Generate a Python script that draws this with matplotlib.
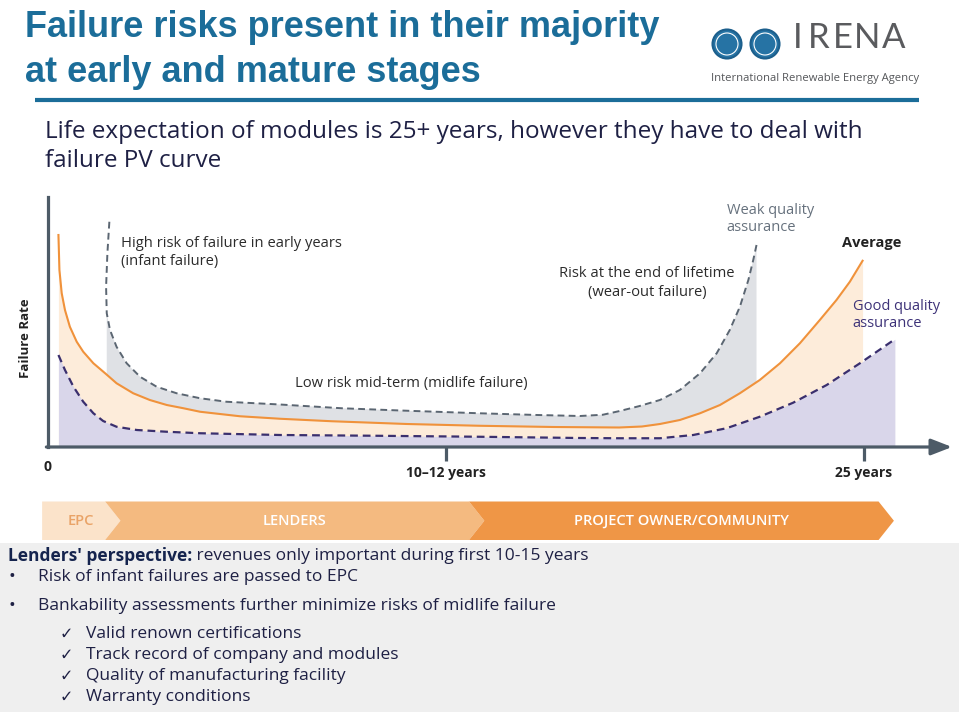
import matplotlib
matplotlib.use('Agg')
import matplotlib.pyplot as plt
from matplotlib.patches import Polygon, Circle

plt.rcParams['font.family'] = ['Open Sans', 'DejaVu Sans']

# failure rate curves (years, relative failure rate)
avg_years = [0.32, 0.35, 0.42, 0.52, 0.67, 0.88, 1.08, 1.39, 1.75, 2.10, 2.61, 3.12, 3.64, 4.15,
             4.66, 5.88, 7.11, 8.7, 11.0, 13.2, 15.5, 17.5, 18.2, 18.75, 19.36, 19.98, 20.59,
             21.20, 21.81, 22.43, 23.04, 23.65, 24.16, 24.57, 24.96]
avg_rate = [84.8, 70.8, 61.5, 54.8, 48.1, 42.1, 38.1, 33.5, 29.5, 25.5, 21.5, 18.8, 16.8, 15.5,
            14.1, 12.3, 11.3, 10.3, 9.2, 8.5, 8.0, 7.8, 8.2, 9.2, 10.8, 13.5, 16.8,
            21.5, 26.8, 33.5, 41.5, 50.8, 58.8, 66.1, 74.5]

weak_years = [1.88, 1.82, 1.78, 1.80, 1.90, 2.10, 2.41, 2.82, 3.33, 3.94, 4.66, 5.47, 7.11, 9.0,
              10.8, 13.2, 15.0, 16.3, 17.0, 17.52, 18.1, 18.75, 19.36, 19.98, 20.49, 20.89,
              21.2, 21.46, 21.61, 21.71]
weak_rate = [90.1, 77.5, 64.1, 53.5, 46.8, 40.1, 33.5, 28.1, 24.1, 21.5, 19.5, 18.1, 17.0, 15.5,
             14.6, 13.5, 12.8, 12.4, 12.9, 14.4, 16.3, 18.8, 22.8, 29.5, 37.5, 46.8,
             56.1, 66.8, 74.8, 80.8]

good_years = [0.32, 0.52, 0.78, 1.08, 1.39, 1.69, 2.10, 2.72, 3.64, 4.66, 7.11, 10.0, 13.2, 16.3,
              17.5, 18.75, 19.77, 20.79, 21.81, 22.83, 23.86, 24.88, 25.95]
good_rate = [36.8, 30.8, 24.1, 18.1, 13.5, 10.4, 8.1, 6.8, 6.1, 5.5, 4.8, 4.5, 4.1, 3.6,
             3.5, 3.5, 4.8, 7.5, 12.1, 17.7, 24.8, 33.5, 43.1]

tick_years = [12.2, 25]
tick_labels = ['10–12 years', '25 years']

phase_names = ['EPC', 'LENDERS', 'PROJECT OWNER/COMMUNITY']
phase_edges = [-0.18, 1.75, 12.9, 25.45]
phase_colors = ['#fbe3ca', '#f4ba80', '#ef9646']
phase_text_colors = ['#e9a367', 'white', 'white']

bullets = ['Risk of infant failures are passed to EPC',
           'Bankability assessments further minimize risks of midlife failure']
checks = ['Valid renown certifications', 'Track record of company and modules',
          'Quality of manufacturing facility', 'Warranty conditions']

blue = '#1b6d99'
navy = '#1e2044'
axis_col = '#4d5b67'

fig = plt.figure(figsize=(9.59, 7.12), dpi=100)

# background layer in pixel coordinates
bg = fig.add_axes([0, 0, 1, 1])
bg.set_xlim(0, 959)
bg.set_ylim(712, 0)
bg.axis('off')

bg.text(25, 37, 'Failure risks present in their majority', family='Liberation Sans',
        weight='bold', size=26, color=blue, va='baseline')
bg.text(25, 82, 'at early and mature stages', family='Liberation Sans',
        weight='bold', size=26, color=blue, va='baseline')
bg.plot([35, 919], [100, 100], color=blue, lw=3, solid_capstyle='butt')

# logo
for cx in [727, 765]:
    bg.add_patch(Circle((cx, 44), 14.5, facecolor='#2673a4', edgecolor='#1c5f8c', lw=1.5))
    bg.add_patch(Circle((cx, 44), 11, facecolor='none', edgecolor='white', lw=0.8))
for ch, cx in zip('IRENA', [798, 819, 843, 867, 894]):
    bg.text(cx, 48, ch, size=25, color='#5a5b5e', ha='center', va='baseline',
            family=['Lato', 'DejaVu Sans'])
bg.text(711, 79, 'International Renewable Energy Agency', size=8.1, color='#55575a', va='center')

bg.text(45, 138, 'Life expectation of modules is 25+ years, however they have to deal with',
        size=17.5, color=navy, va='baseline')
bg.text(45, 167, 'failure PV curve', size=17.5, color=navy, va='baseline')

# bottom panel
bg.add_patch(plt.Rectangle((0, 543), 959, 169, facecolor='#efefef', edgecolor='none'))
t = bg.text(8, 556, "Lenders' perspective:", size=12.5, weight='bold', color='#15244e', va='center')
bg.annotate(' revenues only important during first 10-15 years', xy=(1, 0.5), xycoords=t,
            size=12.5, color=navy, va='center')
for y, s in zip([577, 606], bullets):
    bg.text(9, y, '•', size=13, color=navy, va='center')
    bg.text(38, y, s, size=12.5, color=navy, va='center')
for y, s in zip([634, 655, 676, 697], checks):
    bg.text(60, y, '✓', size=11.5, color=navy, va='center', family=['DejaVu Sans'])
    bg.text(86, y, s, size=12.5, color=navy, va='center')

# chart
ax = fig.add_axes([48 / 959, (712 - 447) / 712, 904 / 959, 250 / 712])
ax.set_facecolor('none')
ax.set_xlim(0, 27.7)
ax.set_ylim(0, 100)

ax.fill(weak_years[3:] + [weak_years[-1], weak_years[3]], weak_rate[3:] + [0, 0],
        color='#dfe1e5', lw=0, zorder=1)
ax.fill_between(avg_years, avg_rate, 0, color='#fdecda', lw=0, zorder=2)
ax.fill_between(good_years, good_rate, 0, color='#d9d6ea', lw=0, zorder=3)
ax.plot(weak_years, weak_rate, color='#5b6672', lw=1.4, dashes=(3.5, 2.2), zorder=4)
ax.plot(avg_years, avg_rate, color='#f0923b', lw=1.5, zorder=5)
ax.plot(good_years, good_rate, color='#3a2f6e', lw=1.6, dashes=(3.5, 2.2), zorder=6)

for side in ['top', 'right', 'bottom']:
    ax.spines[side].set_visible(False)
ax.spines['left'].set_color(axis_col)
ax.spines['left'].set_linewidth(2.3)
ax.annotate('', xy=(27.7, 0), xytext=(-0.05, 0), annotation_clip=False, zorder=7,
            arrowprops=dict(arrowstyle='-|>,head_length=0.9,head_width=0.35', color=axis_col,
                            lw=2.3, shrinkA=0, shrinkB=0, mutation_scale=14))
ax.set_yticks([])
ax.set_xticks(tick_years, labels=tick_labels)
ax.tick_params(axis='x', length=10, width=2.3, color=axis_col, pad=4)
for lab in ax.get_xticklabels():
    lab.set_fontweight('bold')
    lab.set_fontsize(10)
    lab.set_color('#222222')
ax.text(-0.03, -8, '0', weight='bold', size=10, color='#222222', ha='center', va='center')
ax.text(-0.7, 43.6, 'Failure Rate', weight='bold', size=9.5, color='#222222', rotation=90,
        ha='center', va='center')

ax.text(2.24, 84.4, 'High risk of failure in early years\n(infant failure)', size=10.6,
        color='#2b2b2b', va='top', linespacing=1.3)
ax.text(7.57, 25.6, 'Low risk mid-term (midlife failure)', size=10.6, color='#2b2b2b',
        va='center')
ax.text(18.35, 65.6, 'Risk at the end of lifetime\n(wear-out failure)', size=10.6,
        color='#2b2b2b', ha='center', va='center', multialignment='center', linespacing=1.3)
ax.text(20.8, 91.2, 'Weak quality\nassurance', size=10.5, color='#66717d', va='center',
        linespacing=1.1)
ax.text(24.33, 81.6, 'Average', size=10.5, weight='bold', color='#222222', va='center')
ax.text(24.66, 52.8, 'Good quality\nassurance', size=10.5, color='#3d3278', va='center',
        linespacing=1.1)

# stakeholder band
band = fig.add_axes([48 / 959, (712 - 540) / 712, 904 / 959, 38.5 / 712])
band.set_xlim(0, 27.7)
band.set_ylim(0, 1)
band.axis('off')
tip = 0.47
for i, name in enumerate(phase_names):
    s, e = phase_edges[i], phase_edges[i + 1]
    pts = [(s, 1), (e, 1), (e + tip, 0.5), (e, 0), (s, 0)]
    if i > 0:
        pts.append((s + tip, 0.5))
    band.add_patch(Polygon(pts, closed=True, facecolor=phase_colors[i], edgecolor='none',
                           clip_on=False))
    band.text((s + e) / 2 + tip / 2, 0.5, name, ha='center', va='center', size=10.5,
              weight='semibold', color=phase_text_colors[i])

fig.savefig('out.png', dpi=100)
